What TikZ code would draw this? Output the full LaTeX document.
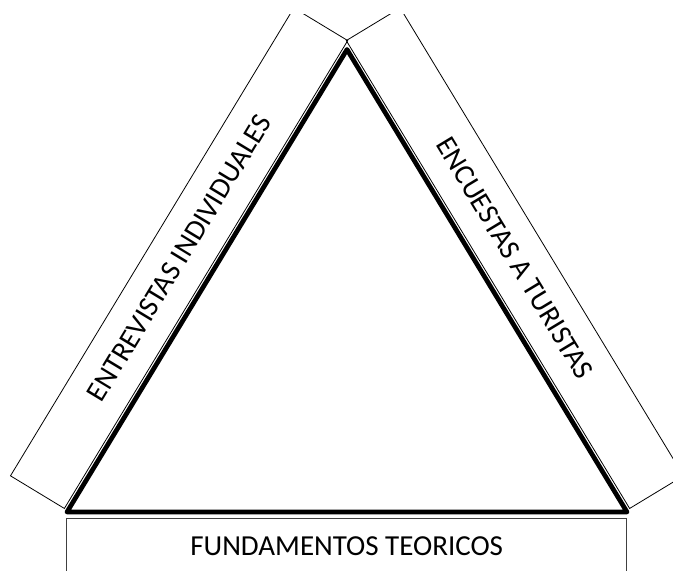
\documentclass[tikz,border=0pt]{standalone}
\usepackage{fontspec}
\setmainfont{Carlito}
\begin{document}
\begin{tikzpicture}[x=1bp,y=-1bp,
  box/.style={draw=black, line width=0.8bp, minimum width=547bp, minimum height=63bp, inner sep=0pt, font=\fontsize{29bp}{35bp}\selectfont},
  tri/.style={line width=4.7bp, line join=round}]
\useasboundingbox (0,0) rectangle (673,571);
\begin{scope}
\clip (0,15) rectangle (673,571);
\node[box, rotate=58.8] (left) at (179.1,258.2) {ENTREVISTAS INDIVIDUALES};
\node[box, rotate=-58.8] (right) at (514.9,258.2) {ENCUESTAS A TURISTAS};
\node[box, minimum width=560bp, minimum height=56bp, anchor=north, draw=black!75] (bottom) at (346.7,518) {FUNDAMENTOS TEORICOS};
\end{scope}
\coordinate (A) at (67,512);
\coordinate (B) at (627,512);
\coordinate (C) at (347,49.5);
\draw[tri] (A) -- (B) -- (C) -- cycle;
\end{tikzpicture}
\end{document}
